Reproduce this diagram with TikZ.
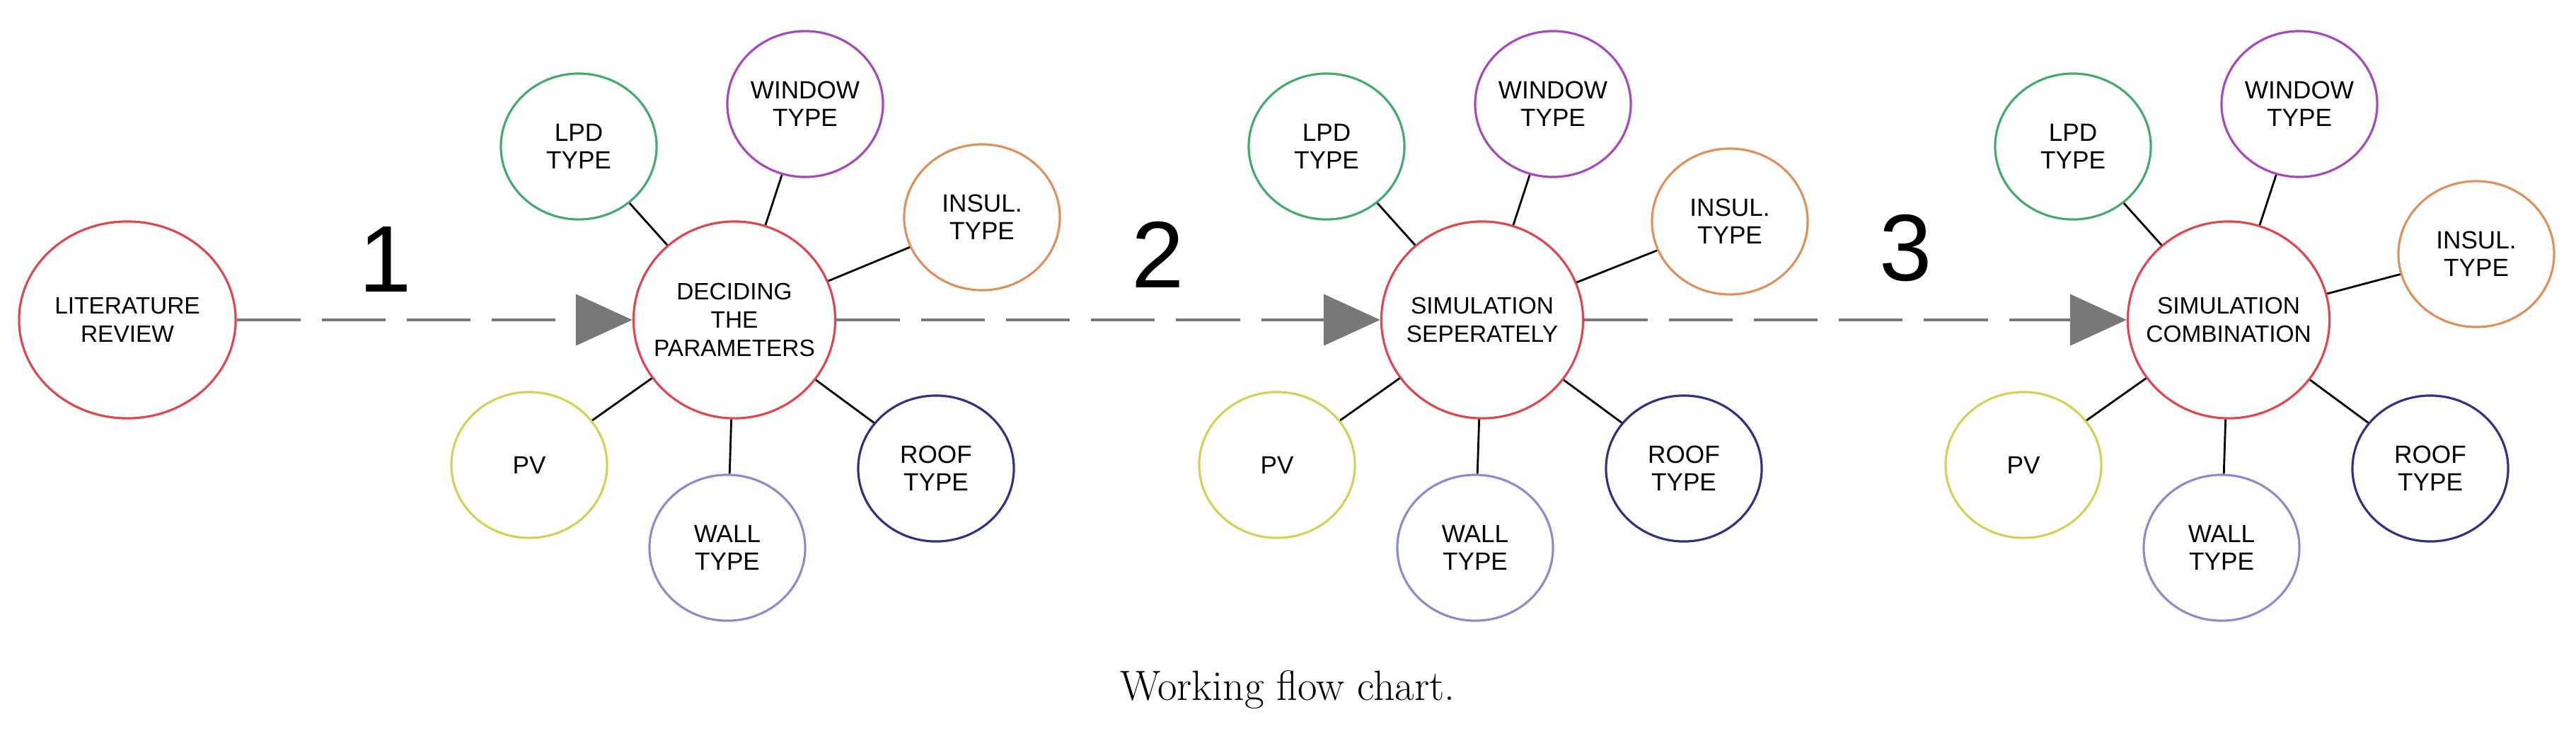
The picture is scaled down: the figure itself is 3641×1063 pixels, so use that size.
\documentclass[tikz,border=0pt]{standalone}
\usepackage{fontspec}
\setmainfont{Liberation Sans}
\newfontfamily\capfont{Latin Modern Roman}
\usetikzlibrary{shapes.geometric,arrows.meta}

\begin{document}
\begin{tikzpicture}[x=0.01cm,y=-0.01cm,
	bubble/.style={ellipse,draw,line width=0.9pt,minimum width=2.2cm,minimum height=2.06cm,inner sep=0pt,align=center,font=\fontsize{10}{11}\selectfont},
	hub/.style={bubble,draw=hubred,minimum width=2.85cm,minimum height=2.78cm,inner xsep=-0.45cm,font=\fontsize{9.5}{11.5}\selectfont},
	flow/.style={draw=flowgray,line width=1.3pt,dash pattern=on 0.9cm off 0.3cm,-{Triangle[length=0.8cm,width=0.72cm]}},
	spoke/.style={draw=black,line width=0.8pt}]
	\definecolor{hubred}{RGB}{222,70,80}
	\definecolor{lpdgreen}{RGB}{70,170,110}
	\definecolor{winpurple}{RGB}{165,75,185}
	\definecolor{insorange}{RGB}{220,145,95}
	\definecolor{pvyellow}{RGB}{210,210,90}
	\definecolor{walllav}{RGB}{140,140,205}
	\definecolor{roofnavy}{RGB}{50,50,130}
	\definecolor{flowgray}{RGB}{120,120,120}
	
	\useasboundingbox (0,0) rectangle (3641,1063);
	
	\node[hub,minimum width=3.06cm] (lit) at (180,452) {LITERATURE\\REVIEW};
	\node[hub] (h1) at (1038,452) {DECIDING\\THE\\PARAMETERS};
	\node[hub] (h2) at (2095,452) {SIMULATION\\SEPERATELY};
	\node[hub] (h3) at (3150,452) {SIMULATION\\COMBINATION};
	
	% parameter bubbles round each hub
	\foreach \h/\iy in {h1/-145,h2/-139,h3/-93} {
		\node[bubble,draw=lpdgreen] (\h lpd) at ([shift={(-220,-245)}]\h) {LPD\\TYPE};
		\node[bubble,draw=winpurple] (\h win) at ([shift={(100,-305)}]\h) {WINDOW\\TYPE};
		\node[bubble,draw=insorange] (\h ins) at ([shift={(350,\iy)}]\h) {INSUL.\\TYPE};
		\node[bubble,draw=pvyellow] (\h pv) at ([shift={(-290,205)}]\h) {PV};
		\node[bubble,draw=walllav] (\h wall) at ([shift={(-10,322)}]\h) {WALL\\TYPE};
		\node[bubble,draw=roofnavy] (\h roof) at ([shift={(285,210)}]\h) {ROOF\\TYPE};
		\foreach \s in {lpd,win,ins,pv,wall,roof}
			\draw[spoke] (\h) -- (\h\s);
	}
	
	\draw[flow] (lit) -- (h1);
	\draw[flow] (h1) -- (h2);
	\draw[flow] (h2) -- (h3);
	
	\node[font=\fontsize{38}{40}\selectfont] (n1) at (545,367) {1};
	\node[font=\fontsize{38}{40}\selectfont] (n2) at (1637,360) {2};
	\node[font=\fontsize{38}{40}\selectfont] (n3) at (2694,350) {3};
	
	\node[font=\capfont\fontsize{17}{20}\selectfont] (cap) at (1820,975) {Working flow chart.};
\end{tikzpicture}
\end{document}
